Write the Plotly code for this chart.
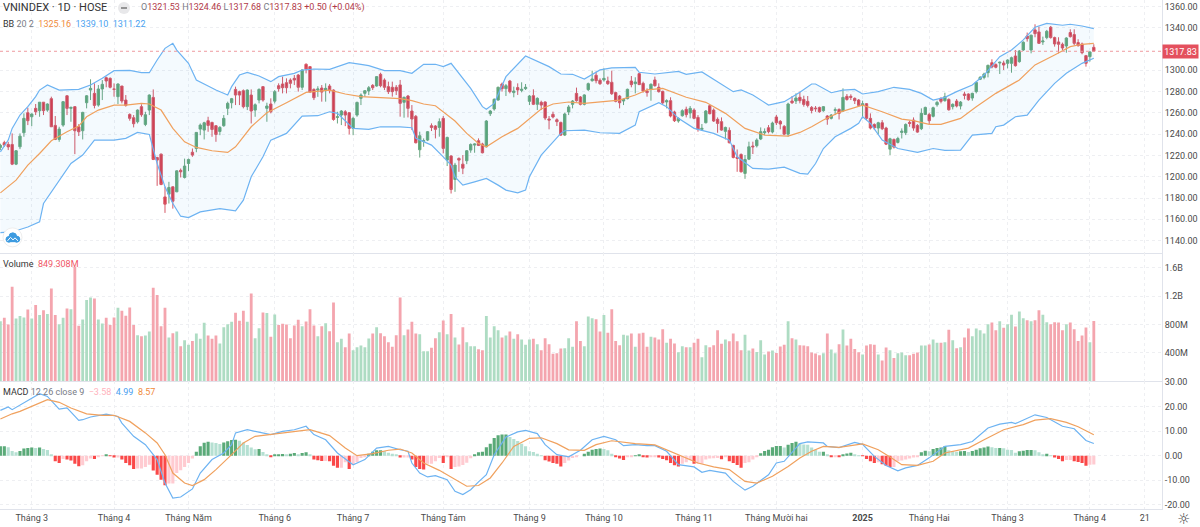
import plotly.graph_objects as go
from plotly.subplots import make_subplots

# VNINDEX daily
open_ = [
    1227.5,1232,1230.3,1230.3,1211.8,1228.1,1241.3,1260.1,1256.3,1264.2,
    1262,1270,1262.6,1273.3,1248.2,1235,1248.5,1276,1264.2,1265.8,
    1246.9,1243.2,1269.5,1281.4,1278.3,1267.3,1282.4,1293,1292.4,1282.4,
    1275.2,1285.2,1272,1258.5,1255.4,1251.6,1265.8,1249.1,1262.6,1274.5,
    1218,1221.2,1181,1183.6,1190.5,1185.8,1206,1199.3,1212.4,1223,
    1226.5,1244.7,1243.8,1252.6,1251,1247.9,1242.5,1247.9,1264.2,1269.5,
    1282,1279.9,1280.8,1265.8,1276.7,1262.6,1272,1284.6,1264.2,1268.3,
    1271,1285.5,1287.1,1288.3,1290.8,1292.4,1295.5,1284,1305.6,1303.4,
    1282,1281.4,1283.3,1281.4,1285.2,1281.4,1255.7,1257.9,1261,1260.1,
    1245.4,1257.9,1273.6,1278.3,1280.5,1285.8,1285.2,1296.2,1290.8,1284.6,
    1284,1284,1286.2,1269.9,1275.8,1261.7,1256.7,1225.3,1233.2,1234.4,
    1247.9,1247.6,1246.3,1254.8,1215.6,1219.4,1197.4,1217.2,1211.8,1215,
    1225,1229.7,1233.8,1230.7,1228.1,1259.2,1263.6,1272,1287.1,1282.7,
    1289.9,1279,1283.7,1281.1,1282.7,1270.8,1276.1,1268,1269.9,1270.2,
    1254.2,1258.6,1253.5,1251,1239.1,1260.8,1268,1278.3,1274.9,1268,
    1281.8,1290.2,1295.3,1290.6,1290.9,1289.9,1288.7,1279,1275.8,1271.1,
    1273.3,1289.9,1287.4,1296.8,1287.7,1280.5,1282.4,1290.9,1284,1280.2,
    1270.2,1271.4,1260.8,1252.3,1257.3,1263.3,1259.8,1262.6,1255.7,1244.5,
    1250.7,1266.7,1262.6,1253.9,1251.7,1242.6,1243.5,1229.4,1218.4,1220.9,
    1203.1,1216.5,1228.8,1229.1,1235.4,1241.3,1246,1242,1256.1,1252,
    1247.3,1240,1271.1,1271.1,1274.6,1272.6,1270.8,1265.1,1264.5,1265.1,
    1262,1257,1254.8,1262.3,1263.2,1261.7,1275.5,1275.5,1273.6,1272,
    1267,1268.6,1254.8,1249.1,1245.7,1250.7,1245.7,1225.9,1235,1232.2,
    1241.6,1241.3,1251,1253.2,1248.2,1245.1,1258.5,1258.5,1256.7,1267.6,
    1273.6,1271.4,1272.6,1265.8,1271.1,1266.4,1277.7,1277.7,1273.9,1279.9,
    1291.5,1293.3,1297.7,1307.1,1305.3,1306.8,1306.8,1306.5,1306.5,1313.4,
    1308.1,1319,1332.2,1319,1337.9,1336,1326.6,1330.7,1340.4,1330.7,
    1326.6,1324.4,1322.8,1335.4,1333.5,1326,1324.7,1313.7,1312.8,1321.53,
]
high = [
    1231,1233.8,1232.8,1240.7,1225,1240.7,1259.5,1264.8,1259.5,1268.3,
    1270,1270,1268.9,1275.2,1257,1246.9,1271,1276.7,1265.8,1266.4,
    1249.4,1261,1276.7,1291.5,1287.7,1286.1,1290.8,1294,1293.3,1287.7,
    1287.7,1285.2,1276.7,1259.5,1257.9,1263.2,1268,1261,1277.3,1282,
    1218.7,1221.8,1190.5,1195.2,1191,1206,1207.7,1217,1217,1226.5,
    1242,1250,1251.6,1256.3,1251.6,1248.5,1247.5,1257.9,1270.5,1274,
    1284.6,1280.8,1282,1282,1282,1268.9,1283,1285.2,1269.5,1273.6,
    1281.4,1287.7,1294,1292.4,1292.4,1295.5,1296.5,1300.9,1306.5,1304,
    1283,1285,1286.1,1287.7,1287,1282,1261,1262.6,1262.6,1260.7,
    1256.3,1270.5,1278.3,1281.4,1285.2,1287,1294.6,1297.7,1292.4,1289.3,
    1289.3,1286.1,1290.9,1275.2,1276.8,1267.3,1258,1242.3,1236,1242.9,
    1250.1,1248.5,1254.8,1257,1237.6,1220.3,1213,1218.1,1220.3,1225,
    1231.3,1231.3,1236,1231.9,1253.2,1262.6,1273.6,1284.6,1288.4,1287.1,
    1290.9,1284.6,1287.7,1288.7,1287.1,1276.8,1282.1,1274.6,1271.4,1270.8,
    1257,1261.1,1254.8,1251.7,1260.1,1267.3,1272,1283.7,1275.8,1277.4,
    1288.4,1299.6,1298.7,1292.4,1301.8,1294,1299.6,1279.9,1276.8,1273.6,
    1282.7,1294.6,1293.4,1297.8,1289.3,1283,1287.7,1294,1287.7,1280.8,
    1272.7,1274.6,1262,1255.7,1263.3,1265.8,1266.4,1264.2,1257.9,1249.5,
    1262.6,1267.3,1264.2,1255.7,1255.7,1247,1246.3,1230,1225.6,1221.9,
    1220.3,1232.9,1232.9,1236,1246.3,1245.4,1248.5,1251.7,1258,1253.2,
    1248.5,1269.5,1275.8,1278.3,1279.9,1276.1,1275.8,1266.4,1266.4,1265.8,
    1266.4,1257.9,1258.9,1265.1,1264.2,1283,1277.7,1277.4,1274.5,1273,
    1271.4,1269.2,1259.5,1250.1,1251.6,1253.2,1246.9,1236.6,1235.9,1237.5,
    1245.4,1250.1,1252.6,1255.7,1249.4,1264.2,1265.8,1260.1,1265.8,1271.4,
    1274.5,1278.9,1273.6,1268.9,1273,1271.1,1279.9,1278.3,1278.9,1289.3,
    1294.6,1297.7,1305.3,1310.3,1306.5,1308.1,1309,1310.3,1312.8,1319,
    1319,1327.2,1335.4,1333.5,1343.2,1341,1331.6,1337.9,1341.6,1331.6,
    1331,1326,1331,1338.5,1338.5,1329.1,1326,1314.4,1317.8,1324.46,
]
low = [
    1225,1228,1225,1210.9,1210.9,1225.9,1237.5,1248.5,1247.5,1257.9,
    1256.3,1257.9,1261,1246.9,1234.4,1232.8,1246.9,1257.9,1251.6,1221.2,
    1238.2,1235,1264.2,1272,1264.2,1265.8,1272,1284,1283,1275.2,
    1268.3,1268.9,1265.8,1252.6,1246.3,1250,1256.3,1247.5,1257.9,1215.6,
    1191.4,1192,1166,1174.8,1170,1185.5,1199.3,1198.3,1205.2,1218.7,
    1223,1239,1235,1242.2,1237.5,1232.8,1239,1246.9,1257.9,1264.2,
    1267.3,1267.3,1264.2,1262.6,1250,1256.3,1268.9,1270.5,1251.6,1259.5,
    1268.9,1279.9,1278.3,1278.3,1283,1286.1,1279.9,1281.4,1297.1,1279,
    1272,1275,1270.5,1270.5,1278.3,1252.6,1250,1248.5,1247.5,1239.7,
    1239,1256.3,1267.3,1275.2,1276.7,1281.4,1284.6,1284,1281.4,1277.7,
    1275.2,1276.7,1256.4,1255.4,1255.7,1243.8,1231.3,1218,1228.1,1233.5,
    1242.9,1236,1237.6,1221.9,1210,1184.2,1185.8,1204.6,1202.4,1211.8,
    1222.5,1222.5,1228.8,1221.9,1227.5,1257,1262,1271.4,1279.9,1275.8,
    1278.3,1274.6,1276.8,1279.3,1281.5,1267.3,1267.3,1262.6,1262.6,1253.2,
    1244.5,1254.8,1247.6,1238.2,1238.2,1257.9,1264.2,1270.5,1267,1267,
    1280.5,1289.3,1287.7,1286.2,1289.3,1286.2,1276.8,1269.9,1264.2,1267.3,
    1272.7,1284,1278.3,1286.2,1279,1275.2,1271.4,1284.6,1279,1268.3,
    1264.2,1255.7,1251.4,1250.7,1256.4,1255.7,1254.8,1253.9,1242.3,1243.2,
    1250.1,1258.6,1251.4,1241.3,1243.2,1235,1231.3,1217.2,1204.6,1204,
    1198,1215.6,1221.3,1227.5,1234.4,1239.1,1240.7,1240.7,1248.5,1244.5,
    1239.1,1237.6,1268.3,1268.3,1268.9,1265.8,1265.1,1259.5,1261,1260.1,
    1261,1248.8,1253.8,1257.9,1253.8,1261,1271.4,1272,1268.3,1265.8,
    1254.8,1253.2,1244.4,1243.8,1239.7,1243.8,1229.7,1220.3,1226.5,1231.2,
    1235.9,1239.1,1246.9,1243.2,1241.3,1243.8,1257.9,1249.4,1255.7,1265.8,
    1268.9,1270.5,1262,1263.2,1265.1,1263.2,1272.6,1271.4,1271.4,1278.3,
    1290.8,1291.5,1293.3,1301.8,1301.8,1296.5,1300.2,1301.8,1297.7,1303.4,
    1307.1,1318.1,1326.9,1315.9,1331,1324.7,1323.8,1329.1,1329.7,1322.2,
    1315.9,1319,1316.5,1330.7,1323.5,1322.2,1315,1303.4,1308.1,1317.68,
]
close = [
    1229.5,1229.7,1228,1211.8,1224.4,1238.1,1254.8,1252.6,1258.9,1261,
    1270,1262,1268.3,1246.9,1235,1244.7,1270.5,1264.2,1265.1,1243.2,
    1242.2,1260.4,1276,1283,1267,1282.4,1286.8,1289.9,1284,1282.1,
    1287.1,1271.1,1267,1254.8,1249.8,1262.6,1258.2,1258.2,1276.7,1216.2,
    1215.6,1192.7,1174.2,1189.9,1177,1205.5,1204.6,1210,1216.2,1220.3,
    1241.6,1248.5,1250.7,1248.2,1244.4,1239.7,1246.3,1254.8,1268.9,1273.3,
    1276.7,1276.7,1265.8,1281.4,1261.7,1267.6,1282,1272,1266.4,1261,
    1279.9,1282.7,1283.6,1283.6,1287.7,1290.8,1284,1300.2,1301.2,1279.5,
    1274.2,1282.4,1279.5,1283,1280.8,1253.8,1256.3,1261.7,1257.9,1245.4,
    1254.8,1269.8,1276.7,1280.8,1283.6,1283.6,1294,1285.5,1284,1279.9,
    1279.9,1280.8,1268.9,1274.6,1264.2,1254.2,1231.9,1238.5,1233.8,1242.3,
    1246.3,1244.5,1251.7,1226.6,1236.9,1188,1210.9,1215.6,1208,1224.4,
    1230.3,1230.7,1229.4,1222.5,1252.3,1261.7,1272.7,1284,1282.7,1285.5,
    1279.9,1280.5,1281.5,1282.1,1284,1275.8,1268,1273.6,1267.3,1255.1,
    1253.2,1256.1,1251.7,1239.1,1258.9,1265.5,1271.1,1271.4,1268,1276.8,
    1287.4,1291.8,1290.2,1287.4,1292.4,1287.4,1278,1270.8,1269.5,1272.7,
    1282.1,1286.5,1289,1286.5,1280.5,1279,1286.8,1285.5,1279.9,1269.5,
    1271.4,1257,1252.6,1254.8,1262,1258.3,1264.2,1254.8,1244.5,1245.4,
    1261.7,1259.2,1252.3,1250.1,1243.8,1246.3,1231.9,1218.1,1217.2,1204.6,
    1216.2,1228.1,1228.1,1234.4,1242.3,1242.3,1242.3,1250.4,1250.7,1249.5,
    1240,1268.3,1269.5,1273.9,1271.4,1267.9,1267,1262.3,1263.9,1261,
    1265.8,1254.1,1257.9,1262.9,1259.5,1274.5,1272.6,1274.5,1271.4,1267,
    1268.6,1254.8,1245.7,1246,1250.7,1245.1,1230.6,1235.6,1227.8,1235.9,
    1242.8,1249.1,1250.1,1245.7,1241.9,1259.5,1265.1,1252.6,1264.8,1269.8,
    1270.8,1275.2,1262.9,1268,1266.4,1270.1,1276.4,1272.3,1278.3,1288.6,
    1293.3,1296.5,1304.6,1303.1,1302.8,1307.5,1304.9,1309.6,1311.8,1304.3,
    1318.1,1326.3,1329.7,1332.9,1334.4,1325.3,1327.5,1336.6,1330.7,1324.7,
    1324.4,1320.9,1330.3,1331.6,1325.3,1323.1,1316.5,1306.5,1317.2,1317.83,
]

# volume in millions
volume = [
    847,894,800,1332,885,918,899,1012,885,1073,
    932,1002,946,1308,932,805,894,1026,1016,1614,
    781,871,1144,1181,1167,871,814,894,791,899,
    1035,993,922,1040,791,649,635,645,701,1318,
    1214,776,1035,616,678,701,494,579,513,569,
    673,598,824,645,598,645,532,762,805,838,
    965,852,993,838,1238,607,748,969,960,626,
    941,791,809,800,607,786,866,776,842,1016,
    786,635,776,819,706,1111,551,598,480,673,
    438,480,504,480,602,673,762,678,635,551,
    485,649,1181,649,729,838,673,664,424,424,
    471,607,692,856,664,946,616,518,762,551,
    494,494,452,438,918,616,776,720,616,645,
    701,598,664,588,513,588,598,522,438,607,
    522,386,395,461,466,607,485,847,569,494,
    913,889,875,701,932,682,1016,569,508,654,
    645,673,485,673,682,485,626,616,588,734,
    541,598,532,409,494,480,480,541,598,339,
    508,480,508,720,527,588,565,673,565,438,
    654,433,461,414,579,376,419,433,400,489,
    513,847,607,588,508,504,494,405,391,367,
    395,673,447,395,522,729,504,598,456,409,
    376,504,522,513,376,292,475,438,329,395,
    405,367,367,386,405,504,504,518,588,541,
    541,551,725,579,466,480,616,744,635,744,
    720,673,805,828,720,847,753,805,936,772,
    984,889,861,847,861,1002,936,833,805,833,
    828,720,805,828,734,569,645,758,551,849.308,
]
vol_ticks = [400, 800, 1200, 1600]
vol_labels = ["400M", "800M", "1.2B", "1.6B"]

# bollinger bands, basis and both edges
upper_idx = [0,2,3,5,7,9,10,12,15,20,23,26,29,33,36,38,40,42,44,45,48,50,53,55,58,59,61,63,66,69,71,75,77,80,84,87,89,92,94,98,102,
             105,108,111,113,115,117,120,123,124,126,129,134,137,140,143,146,149,153,156,162,163,167,173,175,179,183,187,189,192,196,200,204,
             207,208,212,215,218,220,224,228,232,235,238,241,244,248,251,255,258,261,264,267,271,273,276,279]
upper_val = [1223.4,1234.4,1245.4,1257.9,1265.8,1275.2,1281.4,1286.1,1281.4,1282,1286.1,1292.4,1299.6,1299.9,1297.7,1297.7,1309.6,1320.6,1325.3,1319,1306.5,1290.8,1285.2,1281.4,1276.7,1284.6,1295.5,1298,1294.6,1289.3,1294,1297.1,1300.2,1301.2,1300.9,1304.9,1307.1,1305.6,1304.3,1299.6,1299.6,
             1297.1,1305.6,1305.6,1303.4,1306.5,1297.1,1283,1265.8,1263.3,1268.9,1294,1313.4,1308.1,1303.4,1296.5,1296.2,1291.8,1300.3,1302.2,1302.8,1298.1,1296.5,1299,1296.2,1298.4,1289.3,1279.9,1281.5,1276.8,1267.3,1270.5,1279.3,
             1287.1,1287.1,1278.9,1281.4,1282,1277.7,1279.9,1284,1282,1278.3,1272,1274.5,1279.9,1286.1,1295.5,1312.8,1319,1328.5,1340.4,1344.1,1342.3,1343.2,1341.6,1339.1]
lower_idx = [0,3,7,10,11,15,18,21,24,29,32,35,38,40,42,44,46,48,51,56,60,62,64,67,69,73,77,81,84,86,90,94,97,102,
             105,106,110,113,115,116,118,121,124,127,129,132,134,135,138,143,144,149,153,158,162,163,168,170,173,177,182,186,188,192,196,200,204,
             206,208,210,213,217,219,220,222,225,229,234,238,241,245,248,253,254,256,259,262,265,269,272,276,279]
lower_val = [1147.5,1148.1,1152.8,1157.6,1174.8,1196.8,1212.4,1220.3,1234.4,1234.4,1236,1241.6,1239.7,1212.4,1190.5,1174.8,1162.9,1161.6,1167,1170.1,1167.9,1177.9,1199.9,1218.7,1234.4,1240.7,1257,1257.3,1261,1259.5,1245.4,1244.4,1246.9,1246.9,
             1246,1236,1229.7,1218.7,1210.9,1199.9,1192.1,1195.2,1198.4,1192.1,1187.4,1184.9,1187.4,1199.9,1220.3,1240.7,1243.2,1243.8,1241.3,1240.7,1248.5,1261.1,1269.5,1265.8,1254.8,1245.4,1240.7,1234.4,1218.7,1207.8,1207.1,1209,1203.1,
             1202.4,1212.4,1226.5,1237.5,1245.4,1250.1,1256.3,1250.1,1234.4,1226.5,1222.8,1226.5,1224.7,1225,1239.1,1240.7,1246.9,1248.5,1256.3,1257.9,1272,1287.7,1297.1,1306.5,1311.22]
basis_idx = [0,2,4,7,10,13,17,20,22,25,29,32,36,38,41,44,47,50,54,58,60,64,68,73,78,84,88,92,96,99,102,
             105,108,111,113,116,119,122,124,128,132,135,138,141,145,149,153,158,162,165,169,175,180,185,190,195,201,204,
             207,210,214,220,225,230,233,237,240,245,249,254,260,264,269,273,276,279]
basis_val = [1184.8,1190.5,1196.8,1210.9,1221.8,1233.8,1242.2,1247.5,1256.3,1262.6,1267.3,1267.3,1268.9,1268.3,1262.6,1245.4,1232.8,1227.5,1224.4,1222.8,1228.1,1246.9,1260.1,1269.5,1279.2,1281.4,1277.7,1275.2,1274.5,1273.3,1273.3,
             1271.4,1268.3,1266.7,1261.1,1252.3,1240.7,1231.3,1228.1,1237.6,1245.4,1254.8,1263.6,1268.3,1270.2,1268.9,1270.5,1272,1276.8,1281.5,1283,1274.6,1269.9,1259.5,1245.4,1239.1,1238.2,1241.6,
             1246.9,1253.2,1260.4,1267.3,1261,1254.1,1252.6,1249.1,1249.1,1254.8,1265.8,1278.3,1290.8,1305,1314.4,1322.2,1324.4,1325.16]

# macd pane
macd_idx = [0,2,3,5,8,10,12,15,17,20,21,23,27,30,31,34,37,40,42,44,46,49,51,54,57,59,60,63,65,69,72,75,78,80,83,86,90,93,96,99,
            102,104,105,107,109,111,114,116,118,120,122,124,126,129,132,134,137,139,142,145,148,151,154,157,159,162,165,167,170,173,177,179,181,185,187,190,192,196,198,200,
            204,206,210,211,214,218,220,223,226,229,231,234,237,241,245,248,252,255,258,259,264,267,271,274,277,279]
macd_val = [18.5,19.9,18.8,20.8,23.5,25.3,24.2,19,19.5,14.4,14.7,15.8,17,16,13.3,7.9,4.5,-1.6,-11.2,-17.3,-16.9,-13.6,-7.1,-1.6,1.1,4.5,9.3,10.6,9.9,8.6,9.9,10.6,12,8.6,6.5,1.1,-3.7,-1.6,3.1,3.8,
            2.4,1.8,-3,-7.1,-8.7,-8.2,-9.8,-14.6,-15.9,-13.9,-10.7,-7.8,0.4,7.6,9.7,10.3,9,4.5,0.4,-0.5,2.2,6.5,7.9,6.5,4.1,4.5,4.1,4.1,1.8,-3.7,-4.6,-6.8,-6,-7.1,-10.5,-14.1,-12.5,-7.8,-3,-2.3,
            4.9,5.6,5.2,3.8,3.3,5.4,4.6,-0.3,-4,-6.2,-5,-4,-0.9,3.8,4.5,5.8,11.3,12.9,13.6,13.1,16.7,15.6,12,11,6.2,4.99]
signal_idx = [0,3,5,9,12,15,18,22,26,29,33,37,40,42,44,47,49,52,55,59,62,65,69,74,79,84,88,91,95,99,
              102,105,108,112,116,119,122,125,128,131,135,138,142,145,149,152,156,162,167,173,178,182,186,190,193,197,201,
              204,207,210,214,220,224,227,230,234,238,241,247,251,256,261,264,268,272,275,279]
signal_val = [15,17.1,18.1,20.8,22.9,21.8,19.5,17.1,16.5,16.5,14,9.3,5.2,0.4,-7.1,-11.2,-12.2,-9.8,-5.7,0.4,5.2,7.9,8.6,9.5,10.6,8.2,3.1,0,0.8,2.2,
              2.7,1.1,-3,-6,-9.8,-12.5,-12.2,-9.1,-3,3.8,7.1,7.3,4.9,2.4,2.2,4.5,6.1,4.9,4.4,0.4,-3,-4.6,-5.7,-10.5,-11.2,-8.4,-4.4,
              -1,1.8,3.8,3.4,4.8,2.4,-0.5,-3.7,-4,-2.3,1.1,3.1,6.5,10.6,12.7,14.5,15.1,13.6,11.8,8.57]
hist = [
    3.8,3.8,3.4,1.9,1.4,1.9,2.9,3.1,3.3,3.1,
    3.3,2.7,2.3,0.3,-2.3,-3,-1.4,-1.6,-2,-3.3,
    -4.3,-3.9,-2.3,-1.2,-1.4,-0.3,-0.1,0.4,-0.1,-0.7,
    -0.7,-1.6,-3,-3.9,-5.4,-5.2,-5.2,-4.6,-3.7,-6.1,
    -7.8,-9.8,-12.1,-11.4,-11.4,-7.1,-6,-4.6,-3,-1.2,
    1.6,3.8,5.3,5.7,5.4,5.2,4.8,5.4,5.9,6.4,
    6.5,6.1,5.4,4.4,3.3,2.6,2.7,1.5,0.3,-0.4,
    0.3,0.5,0.7,0.5,0.8,1.1,0.5,1.1,1.4,0.3,
    -1.6,-1.9,-2.2,-2.2,-2.3,-4.1,-4.9,-4.9,-2.7,-5.4,
    -3.7,-2.7,-1,-0.5,0.8,1.6,2.2,2.2,1.8,1.2,
    0.8,0.4,-0.7,-0.7,-0.7,-1.6,-4.6,-5.4,-5.7,-3.3,
    -3.3,-2.3,-1,-3,-0.3,-5.4,-4.6,-4.4,-3.8,-2.9,
    -1.1,0.4,1.4,1.6,3.4,4.9,7.2,8.3,8.7,8.7,
    7.6,6.8,6,4.9,3.8,1.8,1.5,0.8,0.1,-1.9,
    -2.4,-3,-3.3,-4.4,-3,-2,-1,-0.4,0,0.8,
    1.6,2.4,2.7,2.9,2.7,2.2,0.8,-0.5,-1.2,-1.8,
    -0.5,-0.3,0.1,0.3,-0.3,-0.8,-0.3,-0.3,-0.7,-1.4,
    -1.9,-3,-3.9,-4.4,-3.3,-2.7,-1.9,-3.3,-3.3,-3.3,
    -1.6,-1.2,-1.1,-1,-1.5,-0.4,-2.3,-3,-3.8,-4.9,
    -3,-2.7,-1.6,-0.5,1,1.9,2.4,3.4,3.9,3.9,
    3.3,4.5,5.2,5.7,5.2,4.6,4.5,3.3,2.4,1.6,
    1.6,0.3,-0.3,-0.3,-0.4,0.4,0.9,1.2,0.5,0.1,
    -0.1,-1.4,-2.3,-3,-2.7,-3.5,-4.1,-4.6,-4.6,-2.3,
    -2,-1.6,-1.2,-0.8,-0.4,1.4,2,1.8,2.7,3.1,
    3.3,3.8,2.2,1.9,1.6,1.8,1.9,1.5,1.9,2.4,
    3,3.3,3.7,3.4,3.1,3.1,3,2.4,2.3,1.2,
    1.8,2,2.3,2.3,2.2,1.4,0.5,0.8,0.1,-0.8,
    -1.4,-2.3,-1.8,-1.8,-2.3,-2.6,-3,-4.1,-3.7,-3.58,
]

month_idx = [8,29,48,70,90,113,135,154,177,198,220,237,257,278,292]
month_labels = ["Tháng 3","Tháng 4","Tháng Năm","Tháng 6","Tháng 7","Tháng Tám","Tháng 9","Tháng 10",
                "Tháng 11","Tháng Mười hai","<b>2025</b>","Tháng Hai","Tháng 3","Tháng 4","21"]
price_ticks = [1140,1160,1180,1200,1220,1240,1260,1280,1300,1340,1360]
macd_ticks = [-20,-10,0,10,20,30]
last_close = 1317.83

FONT = "Roboto"
GRID = "#eeeff2"
PANE_LINE = "#e0e3eb"
BAND = "#6db3f2"
ORANGE = "#f0a15e"
x_all = list(range(len(close)))

PLOT_W = 1162.0
PLOT_H = 509.3

def px_x(v):
    return v / PLOT_W

def px_y(v):
    return 1 - v / PLOT_H

fig = make_subplots(rows=3, cols=1, shared_xaxes=True, vertical_spacing=0,
                    row_heights=[253.5, 128, 127.8])

# bands first so the candles sit on top
fig.add_trace(go.Scatter(x=upper_idx, y=upper_val, mode="lines",
                         line=dict(color=BAND, width=1.2)), row=1, col=1)
fig.add_trace(go.Scatter(x=lower_idx, y=lower_val, mode="lines", fill="tonexty",
                         fillcolor="rgba(33,150,243,0.05)",
                         line=dict(color=BAND, width=1.2)), row=1, col=1)
fig.add_trace(go.Scatter(x=basis_idx, y=basis_val, mode="lines",
                         line=dict(color=ORANGE, width=1.2)), row=1, col=1)
fig.add_trace(go.Candlestick(x=x_all, open=open_, high=high, low=low, close=close,
                             increasing=dict(line=dict(color="#6aa680", width=1), fillcolor="#5aa874"),
                             decreasing=dict(line=dict(color="#d65866", width=1), fillcolor="#d93b4b")),
              row=1, col=1)

vol_colors = ["#aedcc3" if c >= o else "#f4a5ae" for o, c in zip(open_, close)]
fig.add_trace(go.Bar(x=x_all, y=volume, width=0.72, marker=dict(color=vol_colors, line_width=0)),
              row=2, col=1)

hist_colors = []
for i, h in enumerate(hist):
    rising = i == 0 or h >= hist[i - 1]
    if h >= 0:
        hist_colors.append("#5aaa78" if rising else "#b5e0d2")
    else:
        hist_colors.append("#ffcbd1" if rising else "#fa4848")
fig.add_trace(go.Bar(x=x_all, y=hist, width=0.8, marker=dict(color=hist_colors, line_width=0)),
              row=3, col=1)
fig.add_trace(go.Scatter(x=macd_idx, y=macd_val, mode="lines", line=dict(color=BAND, width=1.2)),
              row=3, col=1)
fig.add_trace(go.Scatter(x=signal_idx, y=signal_val, mode="lines", line=dict(color=ORANGE, width=1.2)),
              row=3, col=1)

fig.add_hline(y=last_close, row=1, col=1, line=dict(color="#ee9a9f", width=1, dash="dot"))

common_x = dict(range=[-0.1, 296.4], tickmode="array", tickvals=month_idx, ticktext=month_labels,
                showgrid=True, gridcolor=GRID, griddash="dot", gridwidth=1, zeroline=False,
                showline=True, linecolor=PANE_LINE, linewidth=1, ticks="", automargin=False,
                rangeslider_visible=False, tickfont=dict(family=FONT, size=9, color="#4a4a4a"))
fig.update_xaxes(**common_x)
fig.update_xaxes(showticklabels=False, row=1, col=1)
fig.update_xaxes(showticklabels=False, row=2, col=1)
fig.update_xaxes(showticklabels=True, row=3, col=1)

common_y = dict(side="right", showgrid=True, gridcolor=GRID, griddash="dot", gridwidth=1,
                zeroline=False, showline=True, linecolor=PANE_LINE, linewidth=1, automargin=False,
                ticks="", tickfont=dict(family=FONT, size=9, color="#4a4a4a"))
fig.update_yaxes(**common_y)
fig.update_yaxes(row=1, col=1, range=[1128, 1366], tickvals=price_ticks,
                 ticktext=[f"{v:.2f}" for v in price_ticks])
fig.update_yaxes(row=2, col=1, range=[0, 1802], tickvals=vol_ticks, ticktext=vol_labels)
fig.update_yaxes(row=3, col=1, range=[-21.8, 30.4], tickvals=macd_ticks,
                 ticktext=[f"{v:.2f}" for v in macd_ticks])

def add_label(x, y, text, size=9):
    fig.add_annotation(xref="paper", yref="paper", x=px_x(x), y=px_y(y), text=text, showarrow=False,
                       xanchor="left", yanchor="middle", font=dict(family=FONT, size=size, color="#333"))

RED = "#b23a48"
GREY = "#787b86"
add_label(1, 8, "VNINDEX · 1D · HOSE", 11)
add_label(139, 8,
          f"<span style='color:{GREY}'>O</span><span style='color:{RED}'>1321.53</span> "
          f"<span style='color:{GREY}'>H</span><span style='color:{RED}'>1324.46</span> "
          f"<span style='color:{GREY}'>L</span><span style='color:{RED}'>1317.68</span> "
          f"<span style='color:{GREY}'>C</span><span style='color:{RED}'>1317.83</span> "
          f"<span style='color:{RED}'>+0.50 (+0.04%)</span>")
add_label(1, 24, "BB <span style='color:#787b86'>20 2</span>  "
                 "<span style='color:#f08a3c'>1325.16</span>  "
                 "<span style='color:#4a9ff0'>1339.10</span>  "
                 "<span style='color:#4a9ff0'>1311.22</span>")
add_label(1, 264, "Volume  <span style='color:#ef5566'>849.308M</span>")
add_label(1, 392, "MACD <span style='color:#787b86'>12 26 close 9</span>  "
                  "<span style='color:#ffb3bd'>−3.58</span>  "
                  "<span style='color:#4a9ff0'>4.99</span>  "
                  "<span style='color:#f08a3c'>8.57</span>")

# collapse button in the header
fig.add_shape(type="circle", xref="paper", yref="paper", x0=px_x(118), x1=px_x(130), y0=px_y(14), y1=px_y(2),
              fillcolor="#e8e8ea", line_width=0)
fig.add_shape(type="line", xref="paper", yref="paper", x0=px_x(121), x1=px_x(127), y0=px_y(8), y1=px_y(8),
              line=dict(color="#777", width=1.5))

# logo badge, bottom left of the price pane
def badge_circle(cx, cy, r, fill, line=None):
    fig.add_shape(type="circle", xref="paper", yref="paper", x0=px_x(cx - r), x1=px_x(cx + r),
                  y0=px_y(cy + r), y1=px_y(cy - r), fillcolor=fill,
                  line=dict(color=line or fill, width=1))

badge_circle(12.5, 237.5, 9.5, "white", "#eeeeee")
badge_circle(8.8, 239.5, 2.8, "#3d9be0")
badge_circle(12.8, 236.8, 3.8, "#3d9be0")
badge_circle(16.8, 239.3, 3, "#3d9be0")
fig.add_shape(type="rect", xref="paper", yref="paper", x0=px_x(8.8), x1=px_x(16.8), y0=px_y(242.3), y1=px_y(238),
              fillcolor="#3d9be0", line_width=0)
fig.add_shape(type="path", xref="paper", yref="paper", line=dict(color="white", width=1),
              path=f"M {px_x(7.5)} {px_y(241)} L {px_x(10.5)} {px_y(237.5)} L {px_x(13)} {px_y(240)} "
                   f"L {px_x(15)} {px_y(238)} L {px_x(18)} {px_y(241)}")

# last price tag
fig.add_annotation(xref="paper", yref="y", x=1.0, y=last_close, text="1317.83", showarrow=False, xanchor="left",
                   width=35, height=13, bgcolor="#e4505e", borderpad=0,
                   font=dict(family=FONT, size=9, color="white"))
fig.add_annotation(xref="paper", yref="paper", x=px_x(1183.5), y=px_y(519), text="☼", showarrow=False,
                   xanchor="center", yanchor="middle", font=dict(family="DejaVu Sans", size=15, color="#444"))

fig.update_layout(width=1200, height=527, margin=dict(l=0, r=38, t=0, b=17.7), showlegend=False,
                  paper_bgcolor="white", plot_bgcolor="white", barmode="overlay",
                  boxgap=0.4, boxgroupgap=0, hovermode=False)
fig.update_traces(hoverinfo="skip")

fig.write_html("out.html", config={"displayModeBar": False},
               post_script="document.body.style.margin='0';")
